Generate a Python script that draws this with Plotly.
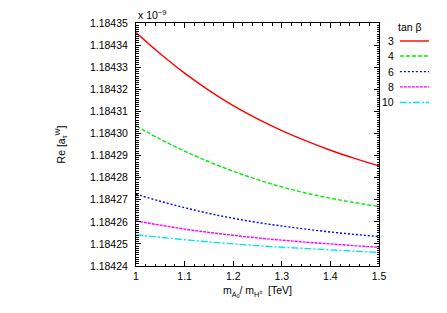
import plotly.graph_objects as go

# ---- data ----
x_mass = [1.0, 1.05, 1.1, 1.15, 1.2, 1.25, 1.3, 1.35, 1.4, 1.45, 1.5]
tanb_labels = ["3", "4", "6", "8", "10"]
re_tanb3 = [1.1843457, 1.1843361, 1.1843273, 1.1843195, 1.1843126, 1.1843066, 1.1843013, 1.1842966, 1.1842924, 1.1842887, 1.1842853]
re_tanb4 = [1.1843034, 1.1842974, 1.1842920, 1.1842872, 1.1842829, 1.1842791, 1.1842758, 1.1842730, 1.1842707, 1.1842687, 1.1842669]
re_tanb6 = [1.1842725, 1.1842693, 1.1842664, 1.1842638, 1.1842616, 1.1842597, 1.1842581, 1.1842567, 1.1842554, 1.1842543, 1.1842533]
re_tanb8 = [1.1842604, 1.1842585, 1.1842567, 1.1842552, 1.1842539, 1.1842527, 1.1842517, 1.1842508, 1.1842500, 1.1842492, 1.1842485]
re_tanb10 = [1.1842541, 1.1842530, 1.1842519, 1.1842509, 1.1842500, 1.1842492, 1.1842485, 1.1842479, 1.1842473, 1.1842467, 1.1842462]
y_ticks = [1.18424, 1.18425, 1.18426, 1.18427, 1.18428, 1.18429, 1.18430, 1.18431, 1.18432, 1.18433, 1.18434, 1.18435]
x_ticks = [1.0, 1.1, 1.2, 1.3, 1.4, 1.5]
x_tick_text = ["1", "1.1", "1.2", "1.3", "1.4", "1.5"]

series = [re_tanb3, re_tanb4, re_tanb6, re_tanb8, re_tanb10]
colors = ["#ff0000", "#00ee00", "#0000ff", "#ff00ff", "#00e5ee"]
dashes = ["solid", "4px,2px", "2px,2px", "3px,1px", "7px,2px,2px,2px"]

FONT = "Liberation Sans, Arial, Helvetica, sans-serif"
fig = go.Figure()
for ys, c, d, lab in zip(series, colors, dashes, tanb_labels):
    fig.add_trace(go.Scatter(x=x_mass, y=ys, mode="lines", line=dict(color=c, width=1.4, dash=d, shape="spline"),
                             name=lab, showlegend=False))

# manual gnuplot-style legend
legend_y = [0.926, 0.864, 0.800, 0.737, 0.673]
for lab, c, d, yy in zip(tanb_labels, colors, dashes, legend_y):
    fig.add_shape(type="line", xref="paper", yref="paper", x0=1.086, x1=1.206, y0=yy, y1=yy,
                  line=dict(color=c, width=1.4, dash=d))
    fig.add_annotation(xref="paper", yref="paper", x=1.072, y=yy, text=lab, showarrow=False,
                       xanchor="right", yanchor="middle", font=dict(size=10.5, color="black", family=FONT))
fig.add_annotation(xref="paper", yref="paper", x=1.126, y=0.982, text="tan β", showarrow=False,
                   xanchor="center", yanchor="middle", font=dict(size=10.5, color="black", family=FONT))
fig.add_annotation(xref="paper", yref="paper", x=0.0, y=1.0, yshift=0, text="x 10<sup>−9</sup>", showarrow=False,
                   xanchor="left", yanchor="bottom", font=dict(size=10.5, color="black", family=FONT))

axis_common = dict(showline=True, linecolor="black", linewidth=1, mirror="allticks", ticks="inside",
                   tickcolor="black", ticklen=5, tickwidth=1, showgrid=False, zeroline=False, automargin=False,
                   tickfont=dict(size=10.5, color="black", family=FONT))
fig.update_xaxes(range=[1.0, 1.5], tickvals=x_ticks, ticktext=x_tick_text,
                 minor=dict(dtick=0.02, ticks="inside", ticklen=2.5, tickcolor="black", showgrid=False),
                 title=dict(text="m<sub>A<sub>0</sub></sub>/ m<sub>H<sup>±</sup></sub>  [TeV]", standoff=6,
                            font=dict(size=10.5, color="black", family=FONT)),
                 **axis_common)
fig.update_yaxes(range=[1.18424, 1.18435], tickvals=y_ticks, tickformat=".5f", ticklabelstandoff=5,
                 minor=dict(dtick=0.000001, tick0=1.18424, ticks="inside", ticklen=2.5, tickcolor="black", showgrid=False),
                 title=dict(text="Re [a<sub>τ</sub><sup>W</sup>]", standoff=22,
                            font=dict(size=10.5, color="black", family=FONT)),
                 **axis_common)
fig.update_layout(width=447, height=313, margin=dict(l=128, r=76, t=15, b=55),
                  plot_bgcolor="white", paper_bgcolor="white",
                  font=dict(family=FONT, size=10.5, color="black"), showlegend=False)
fig.write_html("out.html")
